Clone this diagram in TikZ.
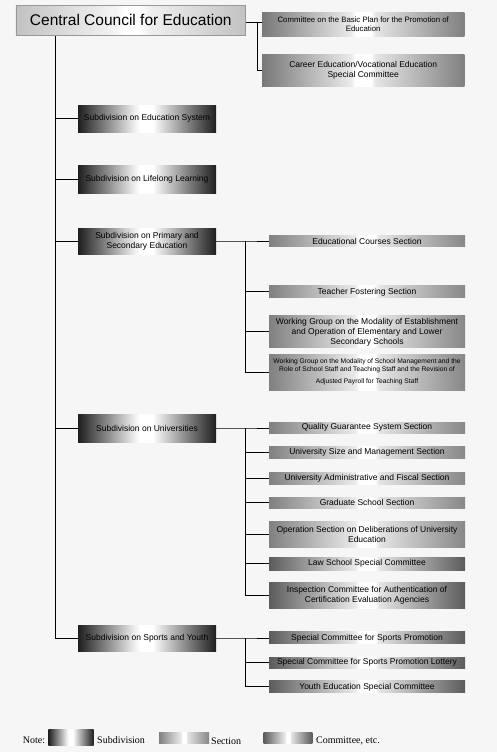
\documentclass[tikz,border=0pt]{standalone}
\usepackage{fontspec}
\setmainfont{Liberation Sans}
\newfontfamily\notefont{Liberation Serif}
\pgfdeclarehorizontalshading{subshade}{100bp}{rgb(0bp)=(.12,.12,.12); rgb(25bp)=(.12,.12,.12); rgb(45bp)=(.92,.92,.92); rgb(47.5bp)=(1,1,1); rgb(52bp)=(1,1,1); rgb(55bp)=(.88,.88,.88); rgb(75bp)=(.12,.12,.12); rgb(100bp)=(.12,.12,.12)}
\pgfdeclarehorizontalshading{secshade}{100bp}{rgb(0bp)=(.5,.5,.5); rgb(25bp)=(.5,.5,.5); rgb(47bp)=(.92,.92,.92); rgb(48bp)=(1,1,1); rgb(52bp)=(1,1,1); rgb(53bp)=(.9,.9,.9); rgb(75bp)=(.53,.53,.53); rgb(100bp)=(.53,.53,.53)}
\pgfdeclarehorizontalshading{comshade}{100bp}{rgb(0bp)=(.36,.36,.36); rgb(25bp)=(.36,.36,.36); rgb(47bp)=(.92,.92,.92); rgb(48bp)=(1,1,1); rgb(52bp)=(1,1,1); rgb(53bp)=(.9,.9,.9); rgb(75bp)=(.36,.36,.36); rgb(100bp)=(.36,.36,.36)}
\pgfdeclarehorizontalshading{topshade}{100bp}{rgb(0bp)=(.47,.47,.47); rgb(25bp)=(.47,.47,.47); rgb(47bp)=(.92,.92,.92); rgb(48bp)=(1,1,1); rgb(52bp)=(1,1,1); rgb(53bp)=(.9,.9,.9); rgb(75bp)=(.5,.5,.5); rgb(100bp)=(.5,.5,.5)}
\pgfdeclarehorizontalshading{ccshade}{100bp}{rgb(0bp)=(.76,.76,.76); rgb(25bp)=(.76,.76,.76); rgb(47bp)=(.96,.96,.96); rgb(48.5bp)=(1,1,1); rgb(52bp)=(1,1,1); rgb(54bp)=(.94,.94,.94); rgb(75bp)=(.76,.76,.76); rgb(100bp)=(.76,.76,.76)}
\definecolor{bg}{RGB}{246,246,246}
\definecolor{ccborder}{RGB}{152,152,152}
\begin{document}
\begin{tikzpicture}[x=1pt,y=-1pt,
  box/.style={rectangle,inner sep=0pt,align=center,text=black},
  ccbox/.style={box,shading=ccshade,draw=ccborder,line width=0.8pt,font=\fontsize{15.5}{17}\selectfont},
  subbox/.style={box,shading=subshade,minimum width=138pt,font=\fontsize{8.5}{10}\selectfont},
  secbox/.style={box,shading=secshade,minimum width=196pt,font=\fontsize{8.5}{10}\selectfont},
  combox/.style={box,shading=comshade,minimum width=196pt,font=\fontsize{8.5}{10}\selectfont},
  topbox/.style={box,shading=topshade,minimum width=202.3pt,font=\fontsize{8.5}{10}\selectfont},
  conn/.style={draw=black,line width=0.9pt},
  notetext/.style={anchor=base west,inner sep=0pt,font=\notefont\fontsize{10}{11}\selectfont}]
\useasboundingbox[fill=bg] (0,0) rectangle (497,752);
% central
\node[ccbox,minimum width=229.7pt,minimum height=30pt] (cc) at (130.8,20.3) {Central Council for Education};
\node[topbox,minimum height=24.3pt,font=\fontsize{7.8}{9.5}\selectfont] (c1) at (363.2,24.2) {Committee on the Basic Plan for the Promotion of\\ Education};
\node[topbox,minimum height=31.7pt] (c2) at (363.2,70.8) {Career Education/Vocational Education\\ Special Committee};
% subdivisions
\node[subbox,minimum height=27pt] (s1) at (147,118.5) {Subdivision on Education System};
\node[subbox,minimum height=27.7pt] (s2) at (147,179.8) {Subdivision on Lifelong Learning};
\node[subbox,minimum height=26pt] (s3) at (147,241) {Subdivision on Primary and\\ Secondary Education};
\node[subbox,minimum height=28pt] (s4) at (147,428) {Subdivision on Universities};
\node[subbox,minimum height=26pt] (s5) at (147,638) {Subdivision on Sports and Youth};
% primary & secondary
\node[secbox,minimum height=10.7pt] (p1) at (367,241.3) {Educational Courses Section};
\node[secbox,minimum height=11.7pt] (p2) at (367,291.8) {Teacher Fostering Section};
\node[secbox,minimum height=31.7pt] (p3) at (367,331.8) {Working Group on the Modality of Establishment\\ and Operation of Elementary and Lower\\ Secondary Schools};
\node[secbox,minimum height=35.7pt,font=\fontsize{6.7}{7.5}\selectfont] (p4) at (367,372.2) {Working Group on the Modality of School Management and the\\ Role of School Staff and Teaching Staff and the Revision of\\[5pt] Adjusted Payroll for Teaching Staff};
% universities
\node[secbox,minimum height=11pt] (u1) at (367,427.5) {Quality Guarantee System Section};
\node[secbox,minimum height=12pt] (u2) at (367,452) {University Size and Management Section};
\node[secbox,minimum height=12pt] (u3) at (367,478) {University Administrative and Fiscal Section};
\node[secbox,minimum height=11pt] (u4) at (367,502.5) {Graduate School Section};
\node[secbox,minimum height=26pt] (u5) at (367,534) {Operation Section on Deliberations of University\\ Education};
\node[combox,minimum height=13pt] (u6) at (367,563.5) {Law School Special Committee};
\node[combox,minimum height=26pt] (u7) at (367,595) {Inspection Committee for Authentication of\\ Certification Evaluation Agencies};
% sports
\node[combox,minimum height=11.7pt] (y1) at (367,637.8) {Special Committee for Sports Promotion};
\node[combox,minimum height=11pt] (y2) at (367,662.5) {Special Committee for Sports Promotion Lottery};
\node[combox,minimum height=11.7pt] (y3) at (367,686.8) {Youth Education Special Committee};
% connectors
\coordinate (tr) at (55.3,0);
\coordinate (j1) at (257,22.7);
\coordinate (br) at (245.5,0);
\draw[conn] (tr |- cc.south) -- (tr |- s5.west) -- (s5.west);
\foreach \s in {s1,s2,s3,s4} \draw[conn] (tr |- \s.west) -- (\s.west);
\draw[conn] (cc.east |- j1) -- (j1) -- (c1.west |- j1);
\draw[conn] (j1) |- (c2.west);
\draw[conn] (s3.east) -- (br |- s3.east) -- (p1.west |- s3.east);
\draw[conn] (br |- s3.east) |- (p4.west);
\foreach \p in {p2,p3} \draw[conn] (br |- \p.west) -- (\p.west);
\draw[conn] (s4.east) -- (br |- s4.east) -- (u1.west |- s4.east);
\draw[conn] (br |- s4.east) |- (u7.west);
\foreach \p in {u2,u3,u4,u5,u6} \draw[conn] (br |- \p.west) -- (\p.west);
\draw[conn] (s5.east) -- (br |- s5.east) -- (y1.west |- s5.east);
\draw[conn] (br |- s5.east) |- (y3.west);
\draw[conn] (br |- y2.west) -- (y2.west);
% legend
\node[notetext] (nt) at (22.7,743.5) {Note:};
\node[box,shading=subshade,minimum width=45.4pt,minimum height=16pt] (ls) at (71,737) {};
\node[notetext] (lst) at (97,743.5) {Subdivision};
\node[box,shading=secshade,minimum width=50pt,minimum height=10.7pt] (lp) at (184,737.7) {};
\node[notetext] (lpt) at (211,744.5) {Section};
\node[box,shading=comshade,minimum width=48.6pt,minimum height=11pt] (lc) at (288,737.5) {};
\node[notetext] (lct) at (316,743.5) {Committee, etc.};
\end{tikzpicture}
\end{document}
